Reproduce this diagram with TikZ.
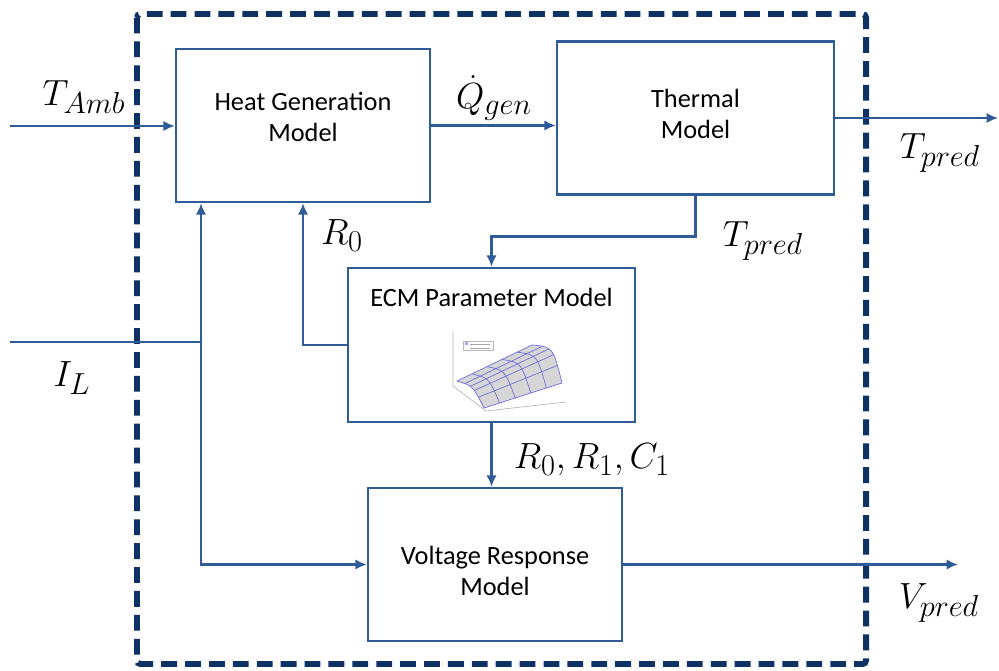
\documentclass[tikz,border=0pt]{standalone}
\usepackage{fontspec}
\setmainfont{Carlito}
\DeclareMathSizes{22}{22}{17}{13}
\usetikzlibrary{arrows.meta, positioning, calc}
\definecolor{cline}{HTML}{2F5C98}
\definecolor{cframe}{HTML}{0E3263}
\definecolor{csurf}{HTML}{6E70DC}
\tikzset{
  every picture/.style={line width=1.4pt},
  block/.style={draw=cline, fill=white, inner sep=0pt, minimum width=#1, minimum height=3.06cm},
  block/.default=5.08cm,
  blocktext/.style={align=center, inner sep=0pt, font=\fontsize{15}{17.6}\selectfont},
  link/.style={-{Latex[length=2.3mm, width=2.1mm]}, draw=cline, line width=1.4pt},
  sig/.style={font=\fontsize{22}{26}\selectfont, inner sep=0pt},
  frame/.style={draw=cframe, line width=3.4pt, dash pattern=on 9pt off 4.6pt, rounded corners=2pt},
}

\begin{document}
\begin{tikzpicture}[x=0.02cm, y=-0.02cm]
  \useasboundingbox (0,0) rectangle (999,671);
  % system boundary
  \draw[frame] (137,14) rectangle (866,664);

  % blocks
  \node[block] (heat) at (303,125.5) {};
  \node[block=5.54cm] (therm) at (695.5,118) {};
  \node[block=5.74cm, minimum height=3.08cm] (ecm) at (491.5,345) {};
  \node[block] (volt) at (495,564.5) {};
  \node[blocktext] (heattext) at (303,117) {Heat Generation\\Model};
  \node[blocktext] (thermtext) at (695.5,114) {Thermal\\Model};
  \node[blocktext] (ecmtext) at (491.5,297) {ECM Parameter Model};
  \node[blocktext] (volttext) at (495,571) {Voltage Response\\Model};

  % small surface plot inside the ECM block
  \begin{scope}[line width=0.4pt]
    \coordinate (sA) at (457,381);
    \coordinate (sB) at (532,345);
    \coordinate (sC) at (562,383);
    \coordinate (sD) at (484,408);
    \coordinate (kA) at (473,386);
    \coordinate (kB) at (553,347);
    \draw[gray!55] (453,331) -- (453,386) -- (486,411) -- (566,402);
    \fill[gray!32] (sA) .. controls (kA) .. (sD) -- (sC) .. controls (kB) .. (sB) -- cycle;
    \foreach \s [count=\k] in {0,0.2,0.4,0.6,0.8,1} {
      \path (sA) .. controls (kA) .. (sD) coordinate[pos=\s] (sl\k);
      \path (sB) .. controls (kB) .. (sC) coordinate[pos=\s] (sr\k);
    }
    \foreach \k in {1,...,6}
      \draw[csurf] (sl\k) -- (sr\k);
    \foreach \t in {0,0.2,0.4,0.6,0.8,1}
      \draw[csurf] ($(sA)!\t!(sB)$) .. controls ($(kA)!\t!(kB)$) .. ($(sD)!\t!(sC)$);
    \draw[gray!55, fill=white, line width=0.3pt] (463,341) rectangle (493,350);
    \fill[csurf!60] (464.5,342.5) rectangle (468,345.5);
    \draw[gray!70, line width=0.3pt] (470,344) -- (490,344);
    \draw[gray!70, line width=0.3pt] (470,348) -- (490,348);
  \end{scope}

  % free ends of the signals
  \coordinate (inA) at (10,126);
  \coordinate (inI) at (10,342);
  \coordinate (jI) at (201,342);
  \coordinate (outT) at (998,118);
  \coordinate (outV) at (958,560);

  % connectors
  \draw[link] (inA) -- (inA -| heat.west);
  \draw[link] (heat.east) -- (heat.east -| therm.west);
  \draw[link] (therm.east) -- (outT);
  \draw[link] (therm.south) -- ++(0,41) -| (ecm.north);
  \draw[link] (ecm.west) -| (heat.south);
  \draw[draw=cline] (inI) -- (jI);
  \draw[link] (jI) -- (jI |- heat.south);
  \draw[link] (jI) |- (volt.west);
  \draw[link] (ecm.south) -- (ecm.south |- volt.north);
  \draw[link] (volt.east) -- (volt.east -| outV);

  % signal labels
  \node[sig] (lamb) at (84,97) {$T_{Amb}$};
  \node[sig] (lqgen) at (494,98) {$\dot{Q}_{gen}$};
  \node[sig] (ltout) at (940,153) {$T_{pred}$};
  \node[sig] (ltin) at (763,241) {$T_{pred}$};
  \node[sig] (lr0) at (342,236) {$R_0$};
  \node[sig] (lil) at (72,378) {$I_L$};
  \node[sig] (lecm) at (592,460) {$R_0, R_1, C_1$};
  \node[sig] (lv) at (939,603) {$V_{pred}$};
\end{tikzpicture}
\end{document}
